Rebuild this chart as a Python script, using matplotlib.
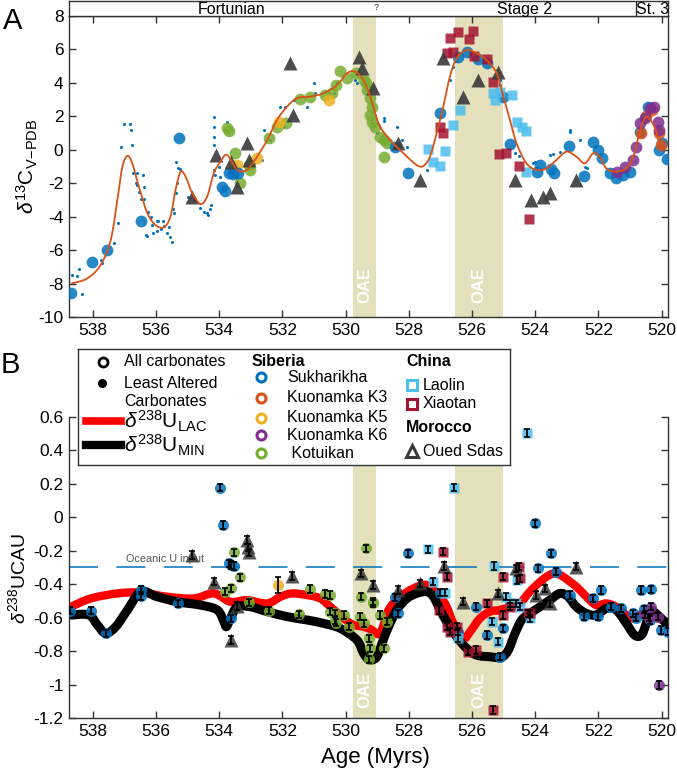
import matplotlib
matplotlib.use("Agg")
import matplotlib.pyplot as plt
from matplotlib.path import Path
from matplotlib.patches import PathPatch

plt.rcParams['font.family'] = ['Liberation Sans', 'DejaVu Sans']
plt.rcParams['mathtext.fontset'] = 'custom'
plt.rcParams['mathtext.rm'] = 'Liberation Sans'
plt.rcParams['mathtext.it'] = 'Liberation Sans:italic'
plt.rcParams['mathtext.bf'] = 'Liberation Sans:bold'
plt.rcParams['axes.unicode_minus'] = False

# ---------------- colours ----------------
C_SUK = '#0072BD'; C_K3 = '#D95319'; C_K5 = '#EDB120'; C_K6 = '#7E2F8E'
C_KOT = '#77AC30'; C_LAO = '#4DBEEE'; C_XIA = '#A2142F'; C_OUE = '#3a3a3a'
C_BAND = '#e4e0bb'

# ---------------- Panel A data ----------------
dots_age = [538.64, 538.5, 538.44, 538.33, 537.75, 537.7, 537.34, 537.2, 537.09, 537.0, 536.82, 536.8,
            536.75, 536.71, 536.61, 536.4, 536.64, 536.59, 536.38, 536.54, 536.48, 536.38, 536.25, 536.17,
            536.12, 535.96, 535.93, 535.77, 535.73, 535.85, 535.96, 535.64, 535.59, 535.54, 535.48, 536.27,
            536.3, 536.08, 535.45, 535.43, 535.38, 535.33, 535.38, 535.29, 535.24, 534.59, 534.49, 534.38,
            534.3, 534.25, 534.36, 534.8, 535.0, 534.17, 534.12, 534.01, 533.96, 534.17, 534.17, 534.17,
            533.75, 534.17, 532.59, 532.38, 532.06, 531.91, 531.96, 531.64, 531.22, 531.01, 530.96, 530.64,
            530.38, 530.27, 532.91, 532.64, 529.7, 529.65, 528.8, 528.78, 528.38, 528.22, 528.07, 529.01,
            527.43, 526.7, 526.59, 526.55, 525.12, 525.1, 524.64, 524.5, 524.07, 524.0, 523.54, 523.45,
            523.22, 522.91, 522.89, 522.59, 522.43, 522.35, 522.12, 521.96]
dots_val = [-7.49, -7.55, -7.13, -8.6, -6.6, -6.8, -5.6, -4.4, 0.18, 1.54, 1.54, 1.18,
            0.28, -1.37, -1.41, -1.53, -2.0, -2.1, -2.2, -2.5, -2.96, -2.96, -3.74, -4.0,
            -4.5, -4.24, -4.24, -4.24, -4.56, -4.76, -4.88, -5.0, -4.6, -5.24, -5.52, -5.16,
            -5.1, -5.0, -3.56, -3.8, -2.6, -2.0, -0.71, -1.11, -1.17, -3.5, -3.7, -3.8,
            -3.56, -3.3, -3.9, -3.0, -2.8, -1.2, -1.5, -1.0, -1.6, 1.94, 1.38, 0.78,
            1.68, 0.3, 1.18, 0.58, 2.58, 2.58, 1.38, 2.98, 2.58, 3.97, 3.38, 2.98,
            3.38, 3.97, -0.81, -0.61, 4.17, 4.0, 1.88, 1.7, 1.38, 0.58, 0.18, 0.98,
            -1.2, 4.17, 4.97, 5.3, 4.17, 3.9, -0.21, -0.35, -0.81, -0.75, -0.31, -0.28,
            -0.11, 1.18, 1.05, 0.58, -1.0, -1.1, 0.18, -0.41]

curve_age = [538.66, 538.17, 537.75, 537.43, 537.22, 537.06, 536.9, 536.75, 536.54, 536.27, 536.01, 535.75,
             535.54, 535.38, 535.22, 535.06, 534.85, 534.59, 534.38, 534.17, 533.96, 533.75, 533.43, 533.12,
             532.8, 532.48, 532.17, 531.85, 531.54, 531.12, 530.7, 530.27, 529.96, 529.7, 529.43, 529.22,
             529.06, 528.91, 528.59, 528.17, 527.75, 527.54, 527.33, 527.12, 526.91, 526.7, 526.49, 526.17,
             525.86, 525.54, 525.22, 525.01, 524.8, 524.59, 524.28, 523.96, 523.64, 523.33, 523.01, 522.7,
             522.43, 522.17, 521.96, 521.75, 521.44, 521.12, 520.9, 520.7, 520.49, 520.23, 520.07, 519.9]
curve_val = [-7.99, -7.69, -6.89, -5.4, -3.0, -1.01, -0.37, -0.81, -2.2, -3.8, -4.5, -4.64,
             -4.0, -2.41, -1.31, -1.61, -2.6, -3.24, -2.8, -1.41, -0.71, -0.31, -1.2, -1.2,
             -0.41, 0.58, 1.78, 2.58, 3.08, 3.18, 3.38, 3.87, 4.57, 4.67, 4.17, 3.18,
             2.18, 1.38, 0.58, -0.21, -0.91, -0.97, -0.41, 0.98, 2.58, 4.37, 5.47, 5.97,
             5.77, 5.37, 4.57, 3.18, 1.78, 0.38, -0.81, -1.2, -1.11, -0.61, -0.11, -0.41,
             -0.81, -0.21, -0.41, -1.11, -1.31, -1.11, -0.41, 0.98, 1.98, 1.38, 0.38, -0.01]

A_suk_age = [538.69, 538.03, 537.56, 536.48, 533.9, 533.8, 535.28, 533.7, 533.55, 533.4, 527.01, 528.04,
             528.43, 526.43, 526.17, 525.8, 525.54, 525.01, 524.8, 523.96, 523.85, 523.49, 523.4, 522.93,
             522.46, 522.17, 522.01, 521.9, 521.64, 521.44, 521.23, 521.01, 520.7, 520.43, 520.07, 519.83, 520.0]
A_suk_val = [-8.55, -6.73, -6.0, -4.24, -2.23, -2.45, 0.7, -1.4, -1.45, -1.4, 2.22, -1.37,
             0.18, 5.53, 5.87, 5.41, 5.17, 3.18, 0.34, -1.31, -0.91, -1.17, -1.4, 0.24,
             -1.57, 0.48, -0.01, -0.51, -1.41, -1.71, -1.51, -1.31, 1.08, 2.58, -0.01, -0.57, 0.4]
A_kot_age = [533.75, 533.7, 533.5, 533.33, 533.06, 533.03, 532.43, 532.17, 531.87, 531.45, 531.12, 530.64,
             530.43, 530.17, 529.96, 529.66, 529.43, 529.35, 529.33, 529.22, 529.17, 529.22, 529.17, 529.06,
             528.91, 528.8, 528.7, 528.8, 530.3]
A_kot_val = [1.28, 1.1, -0.17, -2.0, -0.91, -1.2, 0.68, 1.38, 1.58, 3.02, 3.18, 3.28,
             3.42, 4.73, 4.27, 4.57, 4.2, 3.97, 3.57, 3.08, 2.58, 2.08, 1.68, 1.38,
             0.78, 0.58, 0.38, -0.41, 3.9]
A_k5_age = [533.45, 532.8, 532.12, 530.54]
A_k5_val = [-0.91, -0.51, 1.68, 2.98]
A_oue_age = [531.77, 534.09, 533.61, 533.12, 533.06, 533.45, 531.66, 534.85, 529.59, 529.48, 529.12, 528.33,
             527.66, 526.91, 526.28, 525.8, 525.17, 524.64, 524.12, 523.75, 523.52, 522.7]
A_oue_val = [5.17, -0.31, -0.75, 0.38, -0.61, -2.2, 2.08, -2.8, 5.57, 4.87, 3.68, 0.42,
             -1.81, 5.47, 3.14, 4.17, 4.67, -1.81, -3.0, -2.8, -2.57, -1.81]
A_xia_age = [526.7, 526.43, 525.98, 526.09, 526.78, 526.59, 525.94, 525.54, 525.33, 527.0, 526.91, 525.14,
             524.91, 524.51, 524.21]
A_xia_val = [6.67, 7.06, 7.12, 6.6, 5.8, 5.87, 5.6, 5.41, 4.07, 1.34, 0.98, -0.25, -0.17, -0.95, -4.16]
A_lao_age = [526.38, 526.61, 527.38, 527.22, 527.01, 526.85, 525.33, 525.12, 525.28, 524.72, 524.59, 524.43,
             524.28, 524.28]
A_lao_val = [2.38, 1.48, 0.03, -0.71, -0.95, -0.05, 3.38, 3.47, 2.98, 3.28, 1.68, 1.38, 1.14, -1.31]
A_k6_age = [521.41, 521.17, 520.9, 520.82, 520.7, 520.54, 520.38, 520.23, 520.12, 520.07]
A_k6_val = [-1.31, -1.05, -0.61, 0.18, 1.58, 1.88, 2.48, 2.54, 1.68, 1.2]
A_k3_age = [520.64, 520.5, 520.3, 520.01, 520.07]
A_k3_val = [0.98, 2.0, 2.4, 0.28, 1.0]

# ---------------- Panel B data ----------------
lac_age = [538.69, 538.06, 537.22, 536.48, 535.64, 534.8, 534.17, 533.64, 533.12, 532.48, 532.06, 531.7,
           531.22, 530.8, 530.48, 529.85, 529.43, 529.2, 528.91, 528.64, 528.27, 527.85, 527.43, 527.01,
           526.8, 526.59, 526.28, 526.06, 525.75, 525.43, 525.12, 524.8, 524.49, 524.22, 523.96, 523.64,
           523.38, 523.12, 522.7, 522.38, 522.07, 521.75, 521.44, 521.12, 520.9, 520.59, 520.28, 519.96]
lac_val = [-0.535, -0.485, -0.455, -0.45, -0.475, -0.485, -0.455, -0.505, -0.495, -0.515, -0.475, -0.455,
           -0.465, -0.485, -0.535, -0.634, -0.654, -0.67, -0.694, -0.554, -0.475, -0.425, -0.405, -0.475,
           -0.535, -0.634, -0.724, -0.684, -0.604, -0.564, -0.554, -0.535, -0.515, -0.455, -0.405, -0.355,
           -0.335, -0.355, -0.415, -0.475, -0.525, -0.515, -0.535, -0.584, -0.604, -0.575, -0.594, -0.614]
min_age = [538.69, 538.12, 537.85, 537.59, 537.27, 536.9, 536.48, 535.96, 535.33, 534.59, 534.06, 533.85,
           533.77, 533.64, 533.43, 533.01, 532.48, 531.85, 531.22, 530.7, 530.17, 529.64, 529.43, 529.24,
           529.01, 528.85, 528.64, 528.38, 528.06, 527.75, 527.43, 527.22, 527.01, 526.8, 526.49, 526.17,
           525.86, 525.43, 525.07, 524.85, 524.64, 524.43, 524.17, 523.85, 523.54, 523.22, 522.96, 522.7,
           522.38, 522.07, 521.75, 521.44, 521.12, 520.86, 520.64, 520.49, 520.38, 520.07, 519.86]
min_val = [-0.584, -0.584, -0.644, -0.694, -0.654, -0.554, -0.445, -0.475, -0.505, -0.525, -0.554, -0.624,
           -0.654, -0.604, -0.535, -0.535, -0.564, -0.594, -0.614, -0.634, -0.664, -0.734, -0.814, -0.853,
           -0.834, -0.754, -0.654, -0.554, -0.485, -0.455, -0.445, -0.475, -0.554, -0.624, -0.714, -0.784,
           -0.824, -0.834, -0.837, -0.794, -0.694, -0.614, -0.575, -0.535, -0.495, -0.455, -0.475, -0.535,
           -0.575, -0.584, -0.545, -0.554, -0.634, -0.704, -0.704, -0.634, -0.554, -0.594, -0.634]

B_suk_age = [538.73, 538.06, 537.58, 536.48, 536.48, 535.3, 533.64, 533.64, 533.98, 533.87, 533.69, 533.54,
             528.43, 528.33, 528.04, 527.01, 525.86, 525.54, 525.12, 525.01, 526.43, 524.01, 523.49, 523.9,
             523.35, 522.91, 522.46, 522.17, 521.91, 522.01, 521.59, 521.28, 520.9, 520.64, 520.33, 520.38,
             520.01, 519.8, 520.8, 520.55]
B_suk_val = [-0.558, -0.558, -0.694, -0.435, -0.47, -0.515, -0.604, -0.285, 0.177, -0.046, -0.275, -0.291,
             -0.479, -0.574, -0.215, -0.45, -0.535, -0.704, -0.834, -0.664, -0.684, -0.036, -0.215, -0.305,
             -0.325, -0.465, -0.59, -0.485, -0.435, -0.59, -0.535, -0.545, -0.575, -0.435, -0.43, -0.614,
             -0.674, -0.684, -0.6, -0.55]
B_kot_age = [533.54, 533.35, 533.83, 533.64, 533.06, 532.43, 531.46, 531.12, 530.64, 530.33, 530.3, 530.48,
             530.33, 530.06, 529.9, 529.54, 529.43, 529.27, 529.24, 529.12, 528.91, 528.7, 528.8, 529.35,
             529.52, 529.12, 530.48, 529.25]
B_kot_val = [-0.209, -0.359, -0.445, -0.425, -0.509, -0.558, -0.58, -0.429, -0.459, -0.574, -0.63, -0.564,
             -0.614, -0.584, -0.654, -0.594, -0.634, -0.724, -0.784, -0.505, -0.584, -0.624, -0.784, -0.186,
             -0.475, -0.515, -0.465, -0.85]
B_k5_age = [532.14]
B_k5_val = [-0.405]
B_oue_age = [534.87, 534.17, 533.12, 533.1, 533.05, 531.7, 533.43, 533.64, 529.52, 529.12, 528.33, 527.66,
             526.88, 526.28, 525.17, 524.61, 523.98, 523.7, 523.54, 522.7]
B_oue_val = [-0.225, -0.385, -0.136, -0.18, -0.21, -0.351, -0.53, -0.734, -0.335, -0.405, -0.435, -0.395,
             -0.291, -0.505, -0.455, -0.305, -0.465, -0.425, -0.515, -0.295]
B_lao_age = [526.57, 527.4, 527.22, 526.85, 525.31, 524.59, 524.8, 524.6, 525.38, 525.17, 524.91, 524.49,
             524.17, 526.43, 524.26]
B_lao_val = [0.177, -0.191, -0.385, -0.45, -0.291, -0.375, -0.515, -0.515, -0.624, -0.744, -0.475, -0.535,
             -0.604, -0.724, 0.504]
B_xia_age = [526.91, 526.78, 525.01, 524.49, 524.51, 525.54, 524.22, 527.06, 526.8, 526.7, 526.49, 526.12,
             525.88, 525.33, 525.01, 524.8, 524.17]
B_xia_val = [-0.205, -0.355, -0.355, -0.365, -0.295, -0.515, -0.575, -0.554, -0.654, -0.684, -0.654, -0.804,
             -0.794, -1.152, -0.584, -0.535, -0.575]
B_k6_age = [520.07, 520.33, 520.12, 520.54, 520.4]
B_k6_val = [-1.003, -0.535, -0.594, -0.58, -0.6]

err_default = 0.022
err_k5 = 0.05

oae_bands = [(529.76, 529.03), (526.54, 525.02)]
x_ticks = [538, 536, 534, 532, 530, 528, 526, 524, 522, 520]
A_yticks = [-10, -8, -6, -4, -2, 0, 2, 4, 6, 8]
B_yticks = [-1.2, -1.0, -0.8, -0.6, -0.4, -0.2, 0.0, 0.2, 0.4, 0.6]
B_yticklabels = ['-1.2', '-1', '-0.8', '-0.6', '-0.4', '-0.2', '0', '0.2', '0.4', '0.6']
stages = [('Fortunian', 533.6), ('Stage 2', 524.35), ('St. 3', 520.3)]
XLIM = (538.75, 519.8)

W, H = 677, 770
fig = plt.figure(figsize=(W / 100, H / 100), dpi=100)


def px_rect(x0, y0, x1, y1):
    return [x0 / W, 1 - y1 / H, (x1 - x0) / W, (y1 - y0) / H]


def smooth_line(ax, xs, ys, color, lw, z):
    """Draw a smooth curve through the given points (Catmull-Rom as Bezier path)."""
    pts = list(zip(xs, ys))
    n = len(pts)
    verts = [pts[0]]
    codes = [Path.MOVETO]
    for i in range(n - 1):
        p0 = pts[i - 1] if i > 0 else pts[i]
        p1 = pts[i]
        p2 = pts[i + 1]
        p3 = pts[i + 2] if i + 2 < n else pts[i + 1]
        c1 = (p1[0] + (p2[0] - p0[0]) / 6.0, p1[1] + (p2[1] - p0[1]) / 6.0)
        c2 = (p2[0] - (p3[0] - p1[0]) / 6.0, p2[1] - (p3[1] - p1[1]) / 6.0)
        verts += [c1, c2, p2]
        codes += [Path.CURVE4] * 3
    patch = PathPatch(Path(verts, codes), fill=False, edgecolor=color, lw=lw,
                      capstyle='round', joinstyle='round', zorder=z)
    ax.add_patch(patch)


axA = fig.add_axes(px_rect(69, 16, 668, 317))
axB = fig.add_axes(px_rect(69, 417, 668, 718))

SPC = '#333333'
for ax in (axA, axB):
    ax.set_xlim(*XLIM)
    ax.set_xticks(x_ticks)
    for s in ax.spines.values():
        s.set_color(SPC)
        s.set_linewidth(1.0)
    ax.tick_params(direction='in', length=5, width=1, color=SPC, labelsize=12.5, pad=4,
                   right=True)
    for a, b in oae_bands:
        ax.axvspan(a, b, color=C_BAND, lw=0, zorder=0)

axA.tick_params(top=True)
axB.spines['top'].set_visible(False)

# ---------- Panel A ----------
axA.set_ylim(-10, 8)
axA.set_yticks(A_yticks)
axA.plot(dots_age, dots_val, 'o', color=C_SUK, ms=2.2, mec='none', zorder=2)
MA = 0.85
axA.plot(A_kot_age, A_kot_val, 'o', color=C_KOT, ms=8.5, mec='none', alpha=MA, zorder=3)
axA.plot(A_k5_age, A_k5_val, 'o', color=C_K5, ms=8.5, mec='none', alpha=MA, zorder=3)
axA.plot(A_suk_age, A_suk_val, 'o', color=C_SUK, ms=8.5, mec='none', alpha=MA, zorder=3)
axA.plot(A_k3_age, A_k3_val, 'o', color=C_K3, ms=8.5, mec='none', alpha=MA, zorder=3)
axA.plot(A_k6_age, A_k6_val, 'o', color=C_K6, ms=8.5, mec='none', alpha=MA, zorder=3)
axA.plot(A_lao_age, A_lao_val, 's', color=C_LAO, ms=7.5, mec='none', alpha=MA, zorder=3)
axA.plot(A_xia_age, A_xia_val, 's', color=C_XIA, ms=7.5, mec='none', alpha=MA, zorder=3)
axA.plot(A_oue_age, A_oue_val, '^', color=C_OUE, ms=10, mec='none', alpha=0.9, zorder=3)
smooth_line(axA, curve_age, curve_val, C_K3, 1.3, 4)
axA.set_ylabel(r'$\delta^{13}$C$_{\mathrm{V\!-\!PDB}}$', fontsize=15)
axA.yaxis.set_label_coords(-0.048, 0.5)
for a, b in oae_bands:
    axA.text((a + b) / 2, -8.1, 'OAE', rotation=90, color='white', fontweight='bold',
             fontsize=12, ha='center', va='center', zorder=5)

# stage band
axS = fig.add_axes(px_rect(69, 0.5, 668, 16))
axS.set_xlim(*XLIM)
axS.set_ylim(0, 1)
axS.set_xticks([])
axS.set_yticks([])
for s in axS.spines.values():
    s.set_color(SPC)
    s.set_linewidth(1.0)
axS.axvline(520.82, color=SPC, lw=1.0)
axS.text(529.03, 0.55, '?', fontsize=6.5, ha='center', va='center', color=SPC)
for name, xc in stages:
    axS.text(xc, 0.42, name, fontsize=11.5, ha='center', va='center')

# ---------- Panel B ----------
axB.set_ylim(-1.2, 0.6)
axB.set_yticks(B_yticks)
axB.set_yticklabels(B_yticklabels)
axB.plot([538.75, 519.8], [-0.3, -0.3], color=C_SUK, lw=1.1, dashes=(19, 12), zorder=1)
axB.text(536.95, -0.28, 'Oceanic U input', fontsize=7.8, color='#555555', ha='left', va='bottom')
smooth_line(axB, lac_age, lac_val, '#ff0000', 6, 2)
smooth_line(axB, min_age, min_val, 'black', 6.5, 2.5)


def bpts(ages, vals, marker, color, ms, err):
    axB.plot(ages, vals, marker, color=color, ms=ms, mec='none', alpha=0.85, zorder=3)
    axB.errorbar(ages, vals, yerr=err, fmt='none', ecolor='black', elinewidth=1.3,
                 capsize=2.2, capthick=1.2, zorder=4)


bpts(B_kot_age, B_kot_val, 'o', C_KOT, 8, err_default)
bpts(B_k5_age, B_k5_val, 'o', C_K5, 8, err_k5)
bpts(B_suk_age, B_suk_val, 'o', C_SUK, 8, err_default)
bpts(B_k6_age, B_k6_val, 'o', C_K6, 8, err_default)
bpts(B_lao_age, B_lao_val, 's', C_LAO, 7.5, err_default)
bpts(B_xia_age, B_xia_val, 's', C_XIA, 7.5, err_default)
bpts(B_oue_age, B_oue_val, '^', C_OUE, 10, err_default)
axB.set_ylabel(r'$\delta^{238}$UCAU', fontsize=14)
axB.yaxis.set_label_coords(-0.066, 0.465)
for a, b in oae_bands:
    axB.text((a + b) / 2, -1.035, 'OAE', rotation=90, color='white', fontweight='bold',
             fontsize=12, ha='center', va='center', zorder=5)

fig.text(375 / W, 1 - 757 / H, 'Age (Myrs)', fontsize=16, ha='center', va='center')
fig.text(3 / W, 1 - 29 / H, 'A', fontsize=21, ha='left', va='baseline')
fig.text(1 / W, 1 - 373 / H, 'B', fontsize=21, ha='left', va='baseline')

# ---------- legend box ----------
axL = fig.add_axes(px_rect(78, 349, 510, 465))
axL.set_xlim(0, 432)
axL.set_ylim(116, 0)
axL.set_xticks([])
axL.set_yticks([])
for s in axL.spines.values():
    s.set_color(SPC)
    s.set_linewidth(1.0)
LFS = 11.5
axL.plot([25], [13], 'o', mfc='white', mec='black', mew=2, ms=6.5)
axL.text(46, 13, 'All carbonates', fontsize=LFS, va='center')
axL.plot([24], [34], 'o', color='black', ms=5.5)
axL.text(46, 34, 'Least Altered', fontsize=LFS, va='center')
axL.text(46, 53, 'Carbonates', fontsize=LFS, va='center')
axL.plot([8, 43], [72, 72], color='#ff0000', lw=5.5)
axL.text(46, 72, r'$\delta^{238}$U$_{\mathrm{LAC}}$', fontsize=15, va='center')
axL.plot([8, 43], [96, 96], color='black', lw=6)
axL.text(46, 96, r'$\delta^{238}$U$_{\mathrm{MIN}}$', fontsize=15, va='center')

axL.text(174, 13, 'Siberia', fontsize=LFS, fontweight='bold', va='center')
sib = [('Sukharikha', C_SUK, 28), ('Kuonamka K3', C_K3, 49), ('Kuonamka K5', C_K5, 69),
       ('Kuonamka K6', C_K6, 86), (' Kotuikan', C_KOT, 104)]
for name, col, yy in sib:
    axL.plot([183], [yy], 'o', mfc='white', mec=col, mew=2.2, ms=6.5)
    axL.text(209, yy, name, fontsize=LFS, va='center')
axL.text(328, 13, 'China', fontsize=LFS, fontweight='bold', va='center')
axL.plot([334], [36], 's', mfc='white', mec=C_LAO, mew=2.2, ms=6.5)
axL.text(345, 36, 'Laolin', fontsize=LFS, va='center')
axL.plot([334], [55], 's', mfc='white', mec=C_XIA, mew=2.2, ms=6.5)
axL.text(345, 55, 'Xiaotan', fontsize=LFS, va='center')
axL.text(328, 79, 'Morocco', fontsize=LFS, fontweight='bold', va='center')
axL.plot([334], [102], '^', mfc='white', mec=C_OUE, mew=2.2, ms=8)
axL.text(345, 103, 'Oued Sdas', fontsize=LFS, va='center')

fig.savefig('out.png', dpi=100)
